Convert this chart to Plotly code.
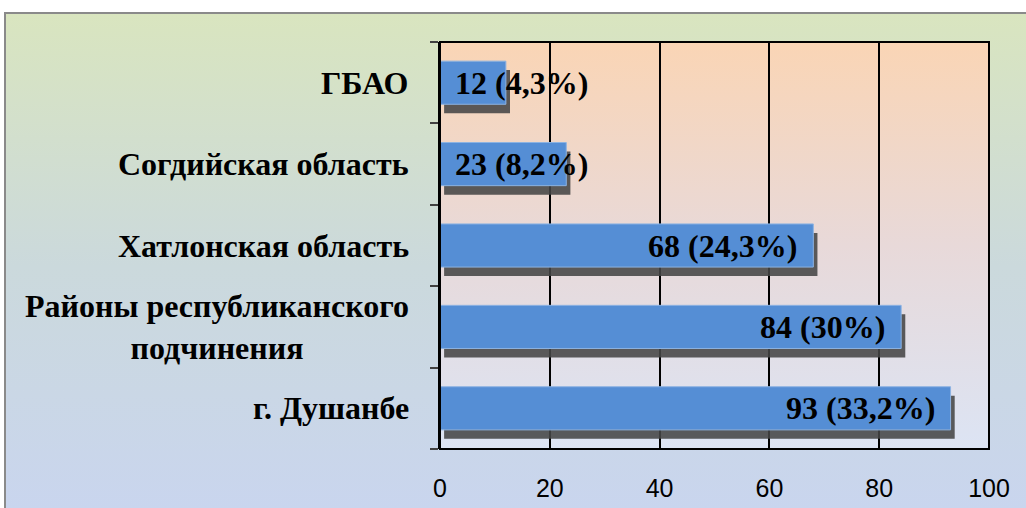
import base64
import plotly.graph_objects as go

categories = ["г. Душанбе", "Районы республиканского<br>подчинения", "Хатлонская область",
              "Согдийская область", "ГБАО"]
values = [93, 84, 68, 23, 12]
labels = ["93 (33,2%)", "84 (30%)", "68 (24,3%)", "23 (8,2%)", "12 (4,3%)"]
x_ticks = [0, 20, 40, 60, 80, 100]

W, H = 1026, 508
L, R, T, B = 440, 989, 42, 449

def grad_uri(stops):
    s = "".join(f'<stop offset="{o}" stop-color="{c}"/>' for o, c in stops)
    svg = ('<svg xmlns="http://www.w3.org/2000/svg" width="100" height="100" viewBox="0 0 100 100" '
           'preserveAspectRatio="none"><defs><linearGradient id="g" x1="0" y1="0" x2="0" y2="1">'
           + s + '</linearGradient></defs><rect width="100" height="100" fill="url(#g)"/></svg>')
    return "data:image/svg+xml;base64," + base64.b64encode(svg.encode()).decode()

def px(x):
    return (x - L) / (R - L)

def py(y):
    return (B - y) / (B - T)

bar_w = 0.53
shadow_dy = 0.11

fig = go.Figure()
fig.add_trace(go.Bar(
    y=categories, x=values, base=[0.75] * len(values), orientation="h",
    width=bar_w, offset=-bar_w / 2 - shadow_dy,
    marker=dict(color="rgba(70,70,70,0.88)", line=dict(width=0)),
    hoverinfo="skip", showlegend=False))
fig.add_trace(go.Bar(
    y=categories, x=values, orientation="h",
    width=bar_w, offset=-bar_w / 2,
    marker=dict(color="#558ed5", line=dict(color="#8db3e2", width=1)),
    showlegend=False))

annotations = []
for c, v, t in zip(categories, values, labels):
    if v > 40:
        annotations.append(dict(x=v, y=c, xref="x", yref="y", text=f"<b>{t}</b>",
                                showarrow=False, xanchor="right", xshift=-14,
                                font=dict(family="Liberation Serif", size=32, color="black")))
    else:
        annotations.append(dict(x=0, y=c, xref="x", yref="y", text=f"<b>{t}</b>",
                                showarrow=False, xanchor="left", xshift=13,
                                font=dict(family="Liberation Serif", size=32, color="black")))
    annotations.append(dict(x=px(411), y=c, xref="paper", yref="y", text=f"<b>{c}</b>",
                            showarrow=False, xanchor="right", align="center",
                            font=dict(family="Liberation Serif", size=32, color="black")))

fig.update_layout(
    width=W, height=H,
    margin=dict(l=L, r=W - R, t=T, b=H - B, autoexpand=False),
    paper_bgcolor="white", plot_bgcolor="rgba(0,0,0,0)",
    barmode="overlay", bargap=0.47,
    annotations=annotations,
    images=[
        dict(source=grad_uri([(0, "#d9e5bf"), (0.5, "#cbd9dc"), (1, "#c9d5ef")]),
             xref="paper", yref="paper", x=px(5), y=py(13), sizex=px(1040) - px(5),
             sizey=py(13) - py(520), sizing="stretch", layer="below", xanchor="left", yanchor="top"),
        dict(source=grad_uri([(0, "#fad5b5"), (0.5, "#e8d9d9"), (1, "#dce4f4")]),
             xref="paper", yref="paper", x=0, y=1, sizex=1, sizey=1,
             sizing="stretch", layer="below", xanchor="left", yanchor="top"),
    ],
    shapes=[
        dict(type="rect", xref="paper", yref="paper", x0=px(5), y0=py(520), x1=px(1040), y1=py(13),
             line=dict(color="#8a8a8a", width=2), layer="below"),
        dict(type="rect", xref="paper", yref="paper", x0=0, y0=0, x1=1, y1=1,
             line=dict(color="black", width=2), layer="above"),
    ],
    xaxis=dict(range=[0, 100], tickvals=x_ticks, showgrid=True, gridcolor="black", gridwidth=2,
               zeroline=False, showline=False, ticks="", ticklabelstandoff=22, automargin=False,
               tickfont=dict(family="Liberation Sans", size=25, color="black"), fixedrange=True),
    yaxis=dict(type="category", categoryorder="array", categoryarray=categories,
               showticklabels=False, ticks="outside", tickson="boundaries", ticklen=8,
               tickcolor="#404040", tickwidth=2, showgrid=False, showline=True, automargin=False,
               linecolor="black", linewidth=2, fixedrange=True),
)

fig.write_html("out.html")
